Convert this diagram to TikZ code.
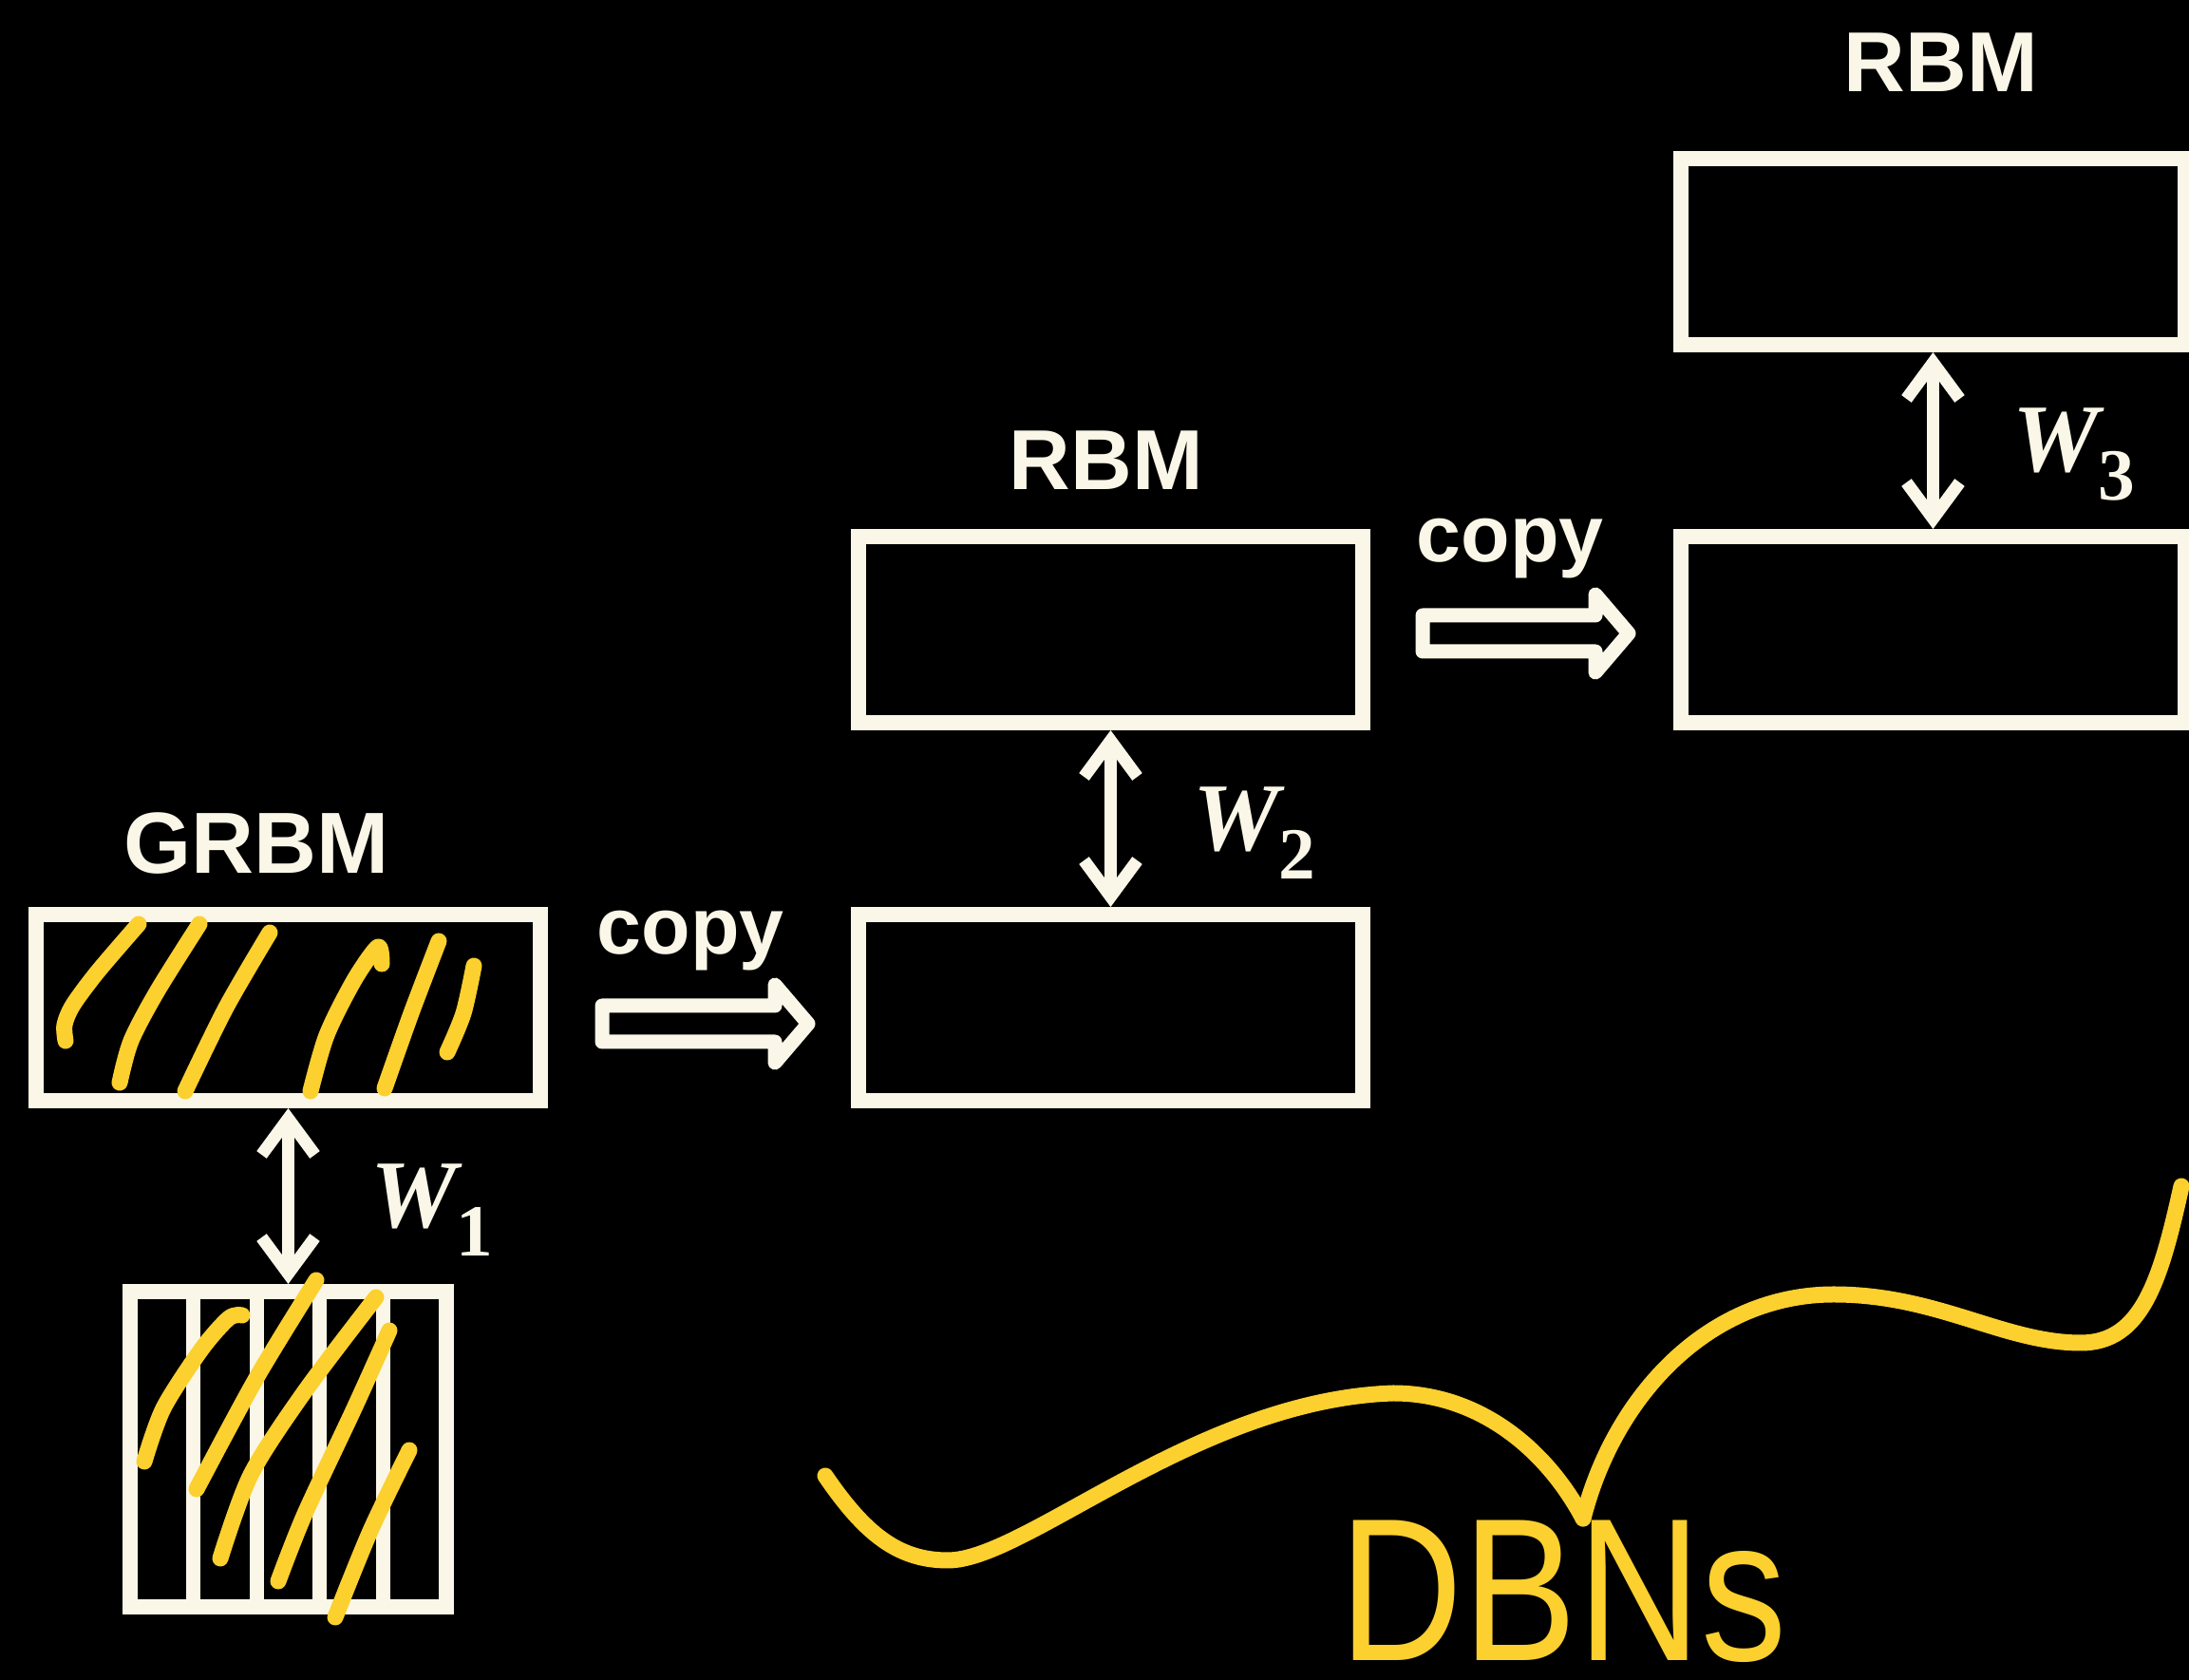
\documentclass[tikz,border=0pt]{standalone}
\usepackage{fontspec}
\setmainfont{Liberation Sans}
\newfontfamily\wfont{Liberation Serif}
\usetikzlibrary{arrows.meta}
\definecolor{kem}{RGB}{250,247,232}
\definecolor{vang}{RGB}{252,208,46}

\begin{document}
\begin{tikzpicture}[>={Straight Barb[length=0.38cm,width=0.56cm]},
	lop/.style={draw=kem, line width=0.16cm, minimum width=5.31cm, minimum height=1.96cm, inner sep=0pt},
	nhan/.style={text=kem, font=\bfseries\fontsize{26}{30}\selectfont, inner sep=0pt},
	wnhan/.style={text=kem, font=\wfont\bfseries\fontsize{29}{34}\selectfont, inner sep=0pt, yshift=-0.15cm},
	noi/.style={draw=kem, line width=0.13cm, <->},
	rong/.style={draw=kem, line width=0.15cm, line join=round},
	but/.style={draw=vang, line width=0.17cm, line cap=round, line join=round}]
				% Nền đen
				\useasboundingbox (0,0) rectangle (23.05,17.69);
				\fill[black] (0,0) rectangle (23.05,17.69);
				
				% Các lớp
				\node[lop] (grbm) at (3.035,7.08) {};
				\node[lop] (rbmAlow) at (11.695,7.08) {};
				\node[lop] (rbmAup) at (11.695,11.06) {};
				\node[lop] (rbmBlow) at (20.355,11.06) {};
				\node[lop] (rbmBup) at (20.355,15.04) {};
				\node[lop, minimum width=3.33cm, minimum height=3.32cm] (vis) at (3.035,2.43) {};
				\foreach \i in {1,...,4}
					\draw[kem, line width=0.15cm] ([xshift=0.08cm+\i*0.666cm]vis.north west) -- ([xshift=0.08cm+\i*0.666cm]vis.south west);
				
				% Tên các lớp
				\node[nhan] (tgrbm) at (2.70,8.81) {GRBM};
				\node[nhan, font=\bfseries\fontsize{25.5}{30}\selectfont] (trbmA) at (11.65,12.84) {RBM};
				\node[nhan, font=\bfseries\fontsize{25.5}{30}\selectfont] (trbmB) at (20.44,17.03) {RBM};
				
				% Trọng số
				\draw[noi] (grbm.south) -- (vis.north) node[midway, right=0.8cm, wnhan] {\textit{W}\kern-0.06cm\raisebox{-0.3cm}{\fontsize{22}{22}\selectfont 1}};
				\draw[noi] (rbmAlow.north) -- (rbmAup.south) node[midway, right=0.8cm, wnhan] {\textit{W}\kern-0.06cm\raisebox{-0.3cm}{\fontsize{22}{22}\selectfont 2}};
				\draw[noi] (rbmBlow.north) -- (rbmBup.south) node[midway, right=0.77cm, wnhan] {\textit{W}\kern-0.06cm\raisebox{-0.3cm}{\fontsize{22}{22}\selectfont 3}};
				
				% Mũi tên copy
				\node[nhan, anchor=base, font=\bfseries\fontsize{24}{28}\selectfont] (copyA) at (7.27,7.64) {copy};
				\node[nhan, anchor=base, font=\bfseries\fontsize{24}{28}\selectfont] (copyB) at (15.90,11.77) {copy};
				\draw[rong] (6.34,7.10) -- ++(1.82,0) -- ++(0,0.22) -- ++(0.35,-0.41) -- ++(-0.35,-0.41) -- ++(0,0.22) -- ++(-1.82,0) -- cycle;
				\draw[rong] (14.98,11.21) -- ++(1.82,0) -- ++(0,0.22) -- ++(0.35,-0.41) -- ++(-0.35,-0.41) -- ++(0,0.22) -- ++(-1.82,0) -- cycle;
				
				% Nét gạch tay
				\draw[but] plot[smooth] coordinates {(1.46,7.96) (1.03,7.46) (0.77,7.11) (0.68,6.90) (0.69,6.73)};
				\draw[but] plot[smooth] coordinates {(2.10,7.96) (1.66,7.26) (1.38,6.73) (1.26,6.29)};
				\draw[but] plot[smooth] coordinates {(2.84,7.87) (2.38,7.08) (1.95,6.20)};
				\draw[but] plot[smooth] coordinates {(4.02,7.54) (3.98,7.72) (3.73,7.37) (3.44,6.79) (3.27,6.20)};
				\draw[but] plot[smooth] coordinates {(4.62,7.78) (4.33,7.02) (4.05,6.23)};
				\draw[but] plot[smooth] coordinates {(4.99,7.52) (4.88,7.02) (4.71,6.61)};
				\draw[but] plot[smooth] coordinates {(2.55,3.84) (2.41,3.81) (2.12,3.48) (1.72,2.86) (1.52,2.30)};
				\draw[but] plot[smooth] coordinates {(3.33,4.21) (2.70,3.18) (2.07,2.01)};
				\draw[but] plot[smooth] coordinates {(3.96,4.03) (3.21,3.04) (2.64,2.16) (2.32,1.28)};
				\draw[but] plot[smooth] coordinates {(4.10,3.68) (3.73,2.86) (3.21,1.75) (2.93,1.04)};
				\draw[but] plot[smooth] coordinates {(4.31,2.42) (3.90,1.57) (3.53,0.66)};
				
				% Đường cong và chữ DBNs
				\draw[but] (8.69,2.15) .. controls (9.1,1.55) and (9.45,1.26) .. (9.98,1.26)
					.. controls (10.8,1.26) and (12.6,2.95) .. (14.67,3.02)
					.. controls (15.6,3.02) and (16.3,2.4) .. (16.67,1.70);
				\draw[but] (16.67,1.70) .. controls (17.0,3.0) and (18.0,4.06) .. (19.31,4.06)
					.. controls (20.4,4.06) and (21.1,3.55) .. (21.91,3.55)
					.. controls (22.55,3.55) and (22.75,4.2) .. (22.97,5.20);
				\node[text=vang, font=\fontsize{61}{68}\selectfont, xscale=0.84, anchor=base, inner sep=0pt] (dbns) at (16.46,0.2) {DBNs};
			\end{tikzpicture}
\end{document}
